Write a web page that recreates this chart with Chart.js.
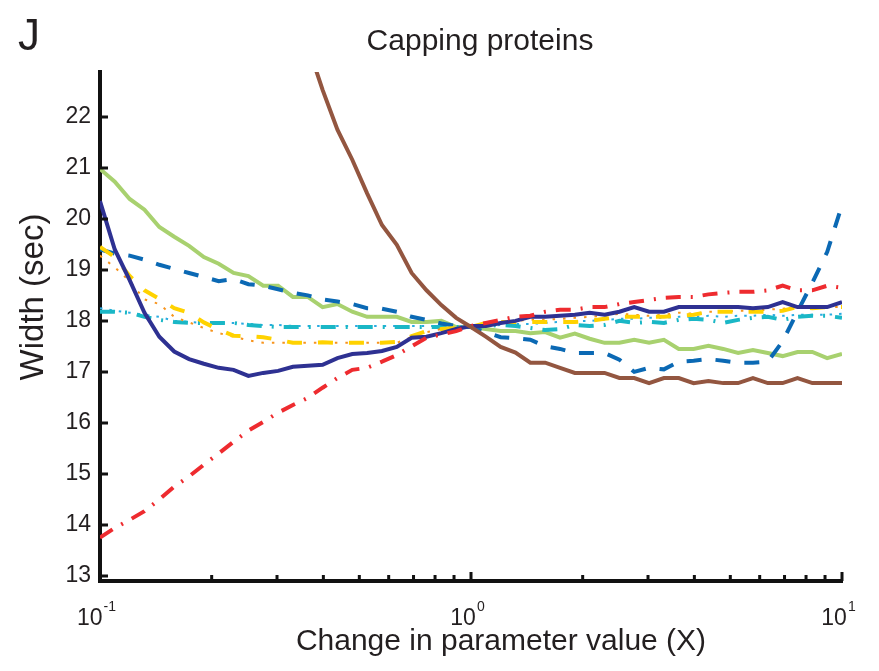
<!DOCTYPE html>
<html>
<head>
<meta charset="utf-8">
<script src="https://cdn.jsdelivr.net/npm/chart.js@4.4.1/dist/chart.umd.min.js"></script>
<style>
  html, body { margin: 0; padding: 0; background: #fff; }
  #chartDiv { width: 879px; height: 671px; }
</style>
</head>
<body>
<div id="chartDiv"><canvas id="chart"></canvas></div>
<script>
const FONT = "'Liberation Sans', Arial, Helvetica, sans-serif";
const TEXT = '#231f20';

// parameter multipliers (log spaced, 0.1 .. 10)
const xValues = [0.1, 0.1096, 0.1202, 0.1318, 0.1445, 0.1585, 0.1738, 0.1905, 0.2089, 0.2291,
  0.2512, 0.2754, 0.302, 0.3311, 0.3631, 0.3981, 0.4365, 0.4786, 0.5248, 0.5754,
  0.631, 0.6918, 0.7586, 0.8318, 0.912, 1, 1.096, 1.202, 1.318, 1.445,
  1.585, 1.738, 1.905, 2.089, 2.291, 2.512, 2.754, 3.02, 3.311, 3.631,
  3.981, 4.365, 4.786, 5.248, 5.754, 6.31, 6.918, 7.586, 8.318, 9.12, 10];

const brown = [36, 35, 34, 33, 32, 31, 30, 29.2, 28.3, 27.4,
  26.5, 25.6, 24.9, 24.2, 23.4, 22.53, 21.75, 21.16, 20.5, 19.88,
  19.49, 18.94, 18.6, 18.31, 18.06, 17.88, 17.69, 17.49, 17.38, 17.18,
  17.18, 17.08, 16.98, 16.98, 16.98, 16.88, 16.88, 16.78, 16.88, 16.88,
  16.78, 16.82, 16.78, 16.78, 16.88, 16.78, 16.78, 16.88, 16.78, 16.78, 16.78];

const navy = [20.35, 19.4, 18.8, 18.16, 17.69, 17.4, 17.25, 17.16, 17.08, 17.04,
  16.92, 16.98, 17.02, 17.1, 17.12, 17.14, 17.27, 17.35, 17.37, 17.41,
  17.49, 17.67, 17.69, 17.76, 17.84, 17.9, 17.9, 17.96, 18.0, 18.08,
  18.08, 18.1, 18.12, 18.16, 18.12, 18.18, 18.27, 18.18, 18.18, 18.27,
  18.27, 18.27, 18.27, 18.27, 18.25, 18.27, 18.37, 18.27, 18.27, 18.27, 18.37];

const green = [20.98, 20.73, 20.39, 20.18, 19.84, 19.65, 19.47, 19.25, 19.12, 18.94,
  18.88, 18.69, 18.69, 18.47, 18.47, 18.27, 18.33, 18.18, 18.08, 18.08,
  18.08, 17.98, 17.98, 18.0, 17.88, 17.88, 17.84, 17.8, 17.8, 17.76,
  17.78, 17.67, 17.75, 17.65, 17.57, 17.57, 17.63, 17.57, 17.63, 17.45,
  17.45, 17.51, 17.45, 17.37, 17.43, 17.37, 17.31, 17.39, 17.39, 17.27, 17.35];

const blueDash = [19.4, 19.32, 19.28, 19.2, 19.1, 19.02, 18.94, 18.86, 18.78, 18.82,
  18.72, 18.69, 18.62, 18.55, 18.5, 18.42, 18.38, 18.33, 18.25, 18.24,
  18.18, 18.08, 18.02, 17.95, 17.9, 17.88, 17.78, 17.68, 17.66, 17.63,
  17.5, 17.45, 17.37, 17.37, 17.37, 17.24, 17.0, 17.08, 17.05, 17.2,
  17.22, 17.25, 17.22, 17.18, 17.18, 17.2, 17.6, 18.18, 18.75, 19.35, 20.27];

const redDashDot = [13.75, 13.94, 14.1, 14.27, 14.5, 14.75, 14.95, 15.18, 15.4, 15.63,
  15.85, 16.02, 16.2, 16.35, 16.49, 16.69, 16.88, 17.04, 17.08, 17.2,
  17.33, 17.5, 17.67, 17.73, 17.8, 17.9, 17.96, 18.02, 18.08, 18.1,
  18.18, 18.22, 18.22, 18.27, 18.27, 18.33, 18.37, 18.41, 18.45, 18.47,
  18.47, 18.52, 18.55, 18.57, 18.57, 18.6, 18.69, 18.6, 18.6, 18.69, 18.65];

const yellowDash = [19.45, 19.25, 18.88, 18.6, 18.43, 18.25, 18.16, 17.97, 17.83, 17.71,
  17.7, 17.68, 17.63, 17.57, 17.57, 17.58, 17.57, 17.57, 17.57, 17.57,
  17.59, 17.7, 17.8, 17.84, 17.86, 17.88, 17.96, 17.98, 17.98, 17.98,
  17.98, 17.98, 17.98, 18.0, 18.04, 18.08, 18.08, 18.08, 18.08, 18.1,
  18.12, 18.18, 18.18, 18.18, 18.18, 18.18, 18.2, 18.27, 18.25, 18.27, 18.27];

const orangeDot = [19.28, 19.05, 18.78, 18.42, 18.33, 18.08, 17.97, 17.86, 17.76, 17.69,
  17.62, 17.57, 17.57, 17.57, 17.57, 17.57, 17.57, 17.57, 17.57, 17.57,
  17.57, 17.68, 17.78, 17.84, 17.88, 17.9, 17.96, 17.98, 18.0, 18.02,
  18.02, 18.04, 18.06, 18.08, 18.1, 18.14, 18.12, 18.1, 18.12, 18.16,
  18.14, 18.18, 18.18, 18.2, 18.2, 18.22, 18.24, 18.27, 18.26, 18.27, 18.27];

const cyanDashDot = [18.18, 18.18, 18.16, 18.08, 18.02, 17.98, 17.96, 17.96, 17.96, 17.96,
  17.92, 17.9, 17.88, 17.88, 17.88, 17.88, 17.88, 17.88, 17.88, 17.88,
  17.88, 17.88, 17.88, 17.88, 17.88, 17.88, 17.9, 17.92, 17.9, 17.86,
  17.82, 17.84, 17.92, 17.9, 17.92, 18.0, 17.96, 17.98, 17.96, 18.02,
  18.04, 18.02, 17.96, 18.02, 18.06, 18.08, 18.02, 18.08, 18.1, 18.1, 18.06];

const lightBlueDot = [18.25, 18.2, 18.16, 18.12, 18.08, 18.0, 17.98, 17.96, 17.96, 17.96,
  17.94, 17.92, 17.92, 17.9, 17.9, 17.9, 17.9, 17.9, 17.9, 17.9,
  17.9, 17.9, 17.9, 17.9, 17.9, 17.9, 17.9, 17.92, 17.94, 17.94,
  17.96, 17.98, 18.0, 18.0, 18.02, 18.04, 18.04, 18.06, 18.06, 18.08,
  18.08, 18.1, 18.08, 18.1, 18.1, 18.12, 18.1, 18.12, 18.12, 18.12, 18.14];

// axes
const yTickValues = [13, 14, 15, 16, 17, 18, 19, 20, 21, 22];
const xTickValues = [0.1, 0.2, 0.3, 0.4, 0.5, 0.6, 0.7, 0.8, 0.9, 1, 2, 3, 4, 5, 6, 7, 8, 9, 10];
const xLabelValues = [0.1, 1, 10];
const xLabelExps = ['-1', '0', '1'];

function makeSet(values, color, width, dash) {
  return {
    data: xValues.map((x, i) => ({ x: x, y: values[i] })),
    borderColor: color,
    borderWidth: width,
    borderDash: dash,
    pointRadius: 0,
    tension: 0,
    fill: false
  };
}

// first dataset ends up on top
const datasets = [
  makeSet(brown, '#935640', 4, []),
  makeSet(redDashDot, '#ee2b2f', 4, [15, 10, 2, 10]),
  makeSet(navy, '#2e3192', 4, []),
  makeSet(yellowDash, '#ffd200', 4, [15, 16]),
  makeSet(orangeDot, '#f7941d', 2, [2.5, 8]),
  makeSet(blueDash, '#0b69b4', 4, [15, 14]),
  makeSet(cyanDashDot, '#1ab7c6', 4, [15, 10, 2, 10]),
  makeSet(lightBlueDot, '#29abe2', 2, [2.5, 7]),
  makeSet(green, '#a8d16f', 4, [])
];

const decor = {
  id: 'decor',
  afterDraw(chart) {
    const ctx = chart.ctx;
    const area = chart.chartArea;
    const xs = chart.scales.x, ys = chart.scales.y;
    ctx.save();

    // inward tick marks
    ctx.strokeStyle = '#111';
    ctx.lineWidth = 3;
    ctx.beginPath();
    yTickValues.forEach(v => {
      const py = ys.getPixelForValue(v);
      ctx.moveTo(area.left, py);
      ctx.lineTo(area.left + 8, py);
    });
    xTickValues.forEach(v => {
      const px = xs.getPixelForValue(v);
      const len = xLabelValues.includes(v) ? 9 : 6;
      ctx.moveTo(px, area.bottom);
      ctx.lineTo(px, area.bottom - len);
    });
    ctx.stroke();

    // 10^n labels
    ctx.fillStyle = TEXT;
    ctx.textAlign = 'left';
    ctx.textBaseline = 'alphabetic';
    xLabelValues.forEach((v, k) => {
      const px = xs.getPixelForValue(v);
      ctx.font = '23px ' + FONT;
      const wBase = ctx.measureText('10').width;
      ctx.font = '14px ' + FONT;
      const wExp = ctx.measureText(xLabelExps[k]).width;
      const start = px - (wBase + wExp) / 2 - 4;
      ctx.font = '23px ' + FONT;
      ctx.fillText('10', start, 625);
      ctx.font = '14px ' + FONT;
      ctx.fillText(xLabelExps[k], start + wBase + 1, 611);
    });

    // titles
    ctx.textAlign = 'center';
    ctx.font = '30px ' + FONT;
    ctx.fillText('Capping proteins', 480, 50);
    ctx.fillText('Change in parameter value (X)', 501, 650);

    ctx.textAlign = 'left';
    ctx.font = '44px ' + FONT;
    ctx.fillText('J', 18, 50);

    ctx.save();
    ctx.translate(43, 297);
    ctx.rotate(-Math.PI / 2);
    ctx.textAlign = 'center';
    ctx.font = '33px ' + FONT;
    ctx.fillText('Width (sec)', 0, 0);
    ctx.restore();

    ctx.restore();
  }
};

const chart = new Chart(document.getElementById('chart'), {
  type: 'line',
  data: { datasets: datasets },
  options: {
    responsive: true,
    maintainAspectRatio: false,
    animation: false,
    layout: { padding: { top: 72, right: 37, left: 0, bottom: 0 } },
    plugins: {
      legend: { display: false },
      title: { display: false },
      tooltip: { enabled: false }
    },
    scales: {
      x: {
        type: 'logarithmic',
        min: 0.1,
        max: 10,
        grid: { display: false, drawTicks: false },
        border: { display: true, color: '#111', width: 4 },
        ticks: { display: false },
        afterFit: scale => { scale.height = 90; }
      },
      y: {
        type: 'linear',
        min: 12.9,
        max: 22.88,
        grid: { display: false, drawTicks: false },
        border: { display: true, color: '#111', width: 4 },
        ticks: { font: { size: 23, family: FONT }, color: TEXT, padding: 9 },
        afterBuildTicks: scale => { scale.ticks = yTickValues.map(v => ({ value: v })); },
        afterFit: scale => { scale.width = 100; }
      }
    }
  },
  plugins: [decor]
});
</script>
</body>
</html>
